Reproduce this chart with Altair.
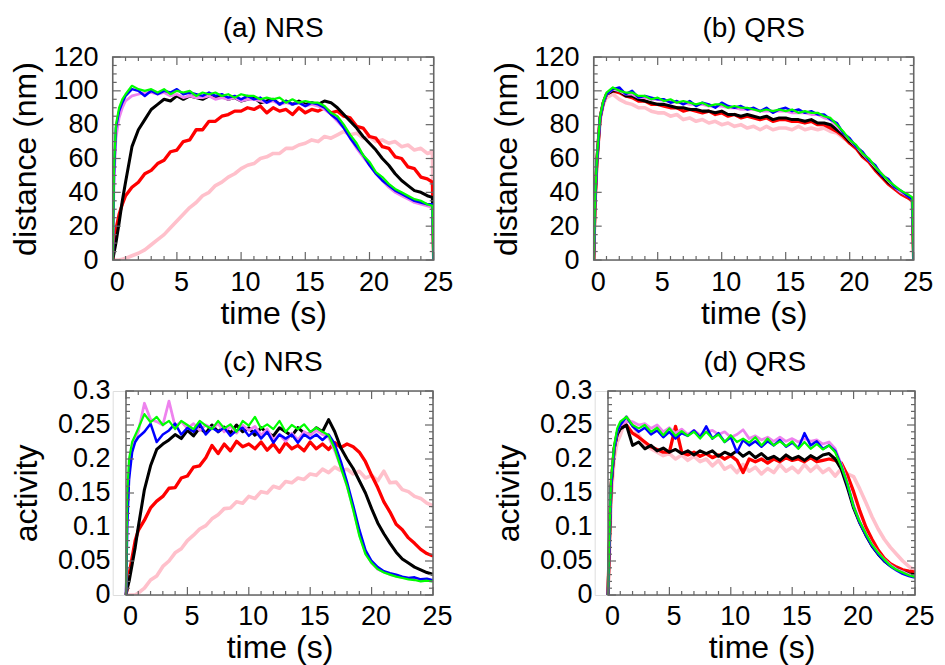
import altair as alt
import pandas as pd

# ---------------- data ----------------
T = [0, 0.1, 0.25, 0.5, 0.75, 1.0, 1.5, 2.0, 2.5, 3.0,
     3.5, 4.0, 4.5, 5.0, 5.5, 6.0, 6.5, 7.0, 7.5, 8.0,
     8.5, 9.0, 9.5, 10.0, 10.5, 11.0, 11.5, 12.0, 12.5, 13.0,
     13.5, 14.0, 14.5, 15.0, 15.5, 16.0, 16.5, 17.0, 17.5, 18.0,
     18.5, 19.0, 19.5, 20.0, 20.5, 21.0, 21.5, 22.0, 22.5, 23.0,
     23.5, 24.0, 24.5, 24.9, 25.0]

SERIES = ["pink", "red", "black", "violet", "blue", "green"]
COLORS = ["#FFC0CB", "#FF0000", "#000000", "#EE82EE", "#0000FF", "#00FF00"]
WIDTHS = [3.6, 2.2, 2.0, 2.2, 2.2, 2.2]

# (a) NRS distance (nm)
pink_a = [0, 0, 0, 0, 0.5, 1, 2.5, 4, 6, 9, 12, 15, 19, 23, 27, 31, 34, 38, 40, 44,
          46, 49, 51, 54, 56, 57, 60, 61, 63, 63, 66, 66, 68, 69, 71, 70, 73, 72, 74, 76,
          74, 75, 72, 73, 70, 71, 69, 70, 67, 68, 65, 66, 63, 64, 0]
red_a = [0, 8, 18, 27, 33, 38, 43, 46, 51, 53, 57, 59, 64, 65, 70, 71, 77, 77, 82, 82,
         85, 86, 88, 88, 90, 89, 91, 87, 90, 88, 89, 86, 90, 87, 89, 88, 90, 87, 88, 85,
         84, 79, 78, 73, 72, 67, 66, 61, 60, 55, 54, 49, 48, 46, 0]
black_a = [0, 4, 10, 22, 35, 46, 67, 77, 83, 89, 92, 95, 94, 97, 95, 97, 96, 95, 97, 96,
           97, 95, 96, 94, 95, 96, 93, 94, 95, 92, 94, 92, 94, 92, 93, 92, 94, 93, 90, 86,
           82, 78, 73, 69, 65, 60, 56, 51, 47, 44, 41, 40, 38, 37, 0]
violet_a = [0, 45, 72, 84, 90, 94, 97, 98, 99, 99, 98, 99, 97, 98, 96, 97, 96, 96, 97, 95,
            96, 95, 96, 94, 95, 95, 94, 93, 94, 92, 93, 92, 93, 91, 92, 91, 89, 86, 82, 78,
            72, 66, 61, 56, 51, 47, 43, 40, 38, 36, 34, 33, 32, 31, 0]
blue_a = [0, 50, 78, 88, 93, 97, 101, 100, 97, 100, 98, 100, 99, 101, 98, 99, 98, 97, 99, 97,
          98, 96, 97, 95, 97, 95, 96, 93, 95, 92, 94, 92, 93, 91, 93, 92, 90, 86, 83, 78,
          72, 67, 62, 56, 51, 47, 44, 41, 39, 37, 35, 34, 33, 33, 0]
green_a = [0, 55, 80, 90, 95, 98, 103, 101, 100, 101, 99, 101, 98, 100, 99, 100, 97, 99, 98, 99,
           97, 98, 96, 98, 97, 97, 95, 96, 95, 96, 93, 95, 93, 94, 93, 93, 91, 87, 85, 80,
           74, 69, 62, 58, 52, 49, 45, 42, 40, 38, 36, 35, 33, 32, 0]

# (b) QRS distance (nm)
pink_b = [0, 33, 57, 83, 92, 96, 98, 95, 93, 92, 90, 90, 88, 87, 87, 85, 86, 83, 84, 82,
          83, 81, 82, 80, 81, 79, 80, 78, 79, 77, 79, 77, 78, 78, 77, 79, 77, 78, 77, 78,
          76, 75, 72, 70, 66, 62, 58, 54, 50, 46, 43, 40, 38, 36, 0]
red_b = [0, 33, 58, 84, 93, 98, 100, 99, 97, 96, 94, 94, 92, 92, 91, 90, 90, 88, 89, 88,
         87, 88, 86, 87, 85, 86, 84, 85, 84, 83, 84, 82, 83, 83, 82, 82, 81, 82, 80, 80,
         78, 76, 73, 69, 66, 61, 58, 53, 49, 45, 42, 39, 37, 35, 0]
black_b = [0, 34, 59, 84, 93, 98, 100, 100, 97, 97, 95, 94, 93, 92, 92, 91, 90, 90, 89, 89,
           88, 88, 87, 88, 86, 86, 85, 86, 85, 84, 85, 83, 84, 84, 83, 83, 82, 83, 81, 81,
           80, 77, 74, 70, 67, 62, 59, 54, 50, 46, 43, 40, 38, 36, 0]
violet_b = [0, 34, 59, 84, 93, 98, 101, 100, 98, 98, 96, 96, 95, 95, 94, 94, 93, 93, 92, 92,
            92, 91, 91, 91, 90, 90, 89, 89, 89, 88, 88, 88, 88, 88, 87, 87, 87, 86, 86, 84,
            83, 79, 75, 71, 67, 63, 59, 55, 51, 47, 43, 40, 38, 36, 0]
blue_b = [0, 33, 58, 84, 93, 98, 101, 102, 98, 100, 96, 97, 96, 95, 95, 93, 94, 92, 94, 91,
          93, 92, 90, 93, 91, 90, 91, 89, 90, 88, 90, 87, 89, 90, 88, 89, 87, 88, 86, 86,
          83, 81, 75, 72, 67, 64, 59, 56, 50, 48, 43, 41, 38, 36, 0]
green_b = [0, 35, 60, 85, 94, 99, 102, 100, 99, 99, 97, 97, 95, 96, 94, 95, 93, 94, 93, 92,
           93, 91, 92, 92, 90, 91, 90, 90, 89, 88, 89, 88, 89, 88, 89, 87, 88, 87, 87, 85,
           84, 80, 76, 71, 68, 63, 60, 55, 51, 47, 44, 41, 39, 37, 0]

# (c) NRS activity
pink_c = [0, 0, 0, 0, 0, 0.003, 0.01, 0.022, 0.028, 0.042, 0.05, 0.062, 0.068, 0.08, 0.088, 0.097, 0.102, 0.112, 0.118, 0.127,
          0.128, 0.137, 0.135, 0.145, 0.142, 0.152, 0.15, 0.16, 0.157, 0.167, 0.165, 0.172, 0.17, 0.178, 0.176, 0.185, 0.18, 0.188, 0.183, 0.185,
          0.178, 0.182, 0.172, 0.176, 0.168, 0.182, 0.165, 0.166, 0.155, 0.152, 0.145, 0.142, 0.135, 0.132, 0.13]
red_c = [0, 0.01, 0.03, 0.055, 0.08, 0.095, 0.11, 0.128, 0.138, 0.145, 0.157, 0.158, 0.172, 0.175, 0.188, 0.19, 0.202, 0.22, 0.208, 0.222,
         0.212, 0.226, 0.218, 0.222, 0.215, 0.225, 0.213, 0.222, 0.21, 0.224, 0.215, 0.22, 0.212, 0.225, 0.215, 0.222, 0.214, 0.224, 0.217, 0.222,
         0.218, 0.21, 0.196, 0.176, 0.158, 0.137, 0.122, 0.104, 0.096, 0.084, 0.076, 0.067, 0.061, 0.058, 0.058]
black_c = [0, 0.01, 0.02, 0.045, 0.07, 0.1, 0.155, 0.19, 0.214, 0.222, 0.228, 0.236, 0.23, 0.242, 0.234, 0.246, 0.238, 0.25, 0.24, 0.247,
           0.238, 0.25, 0.24, 0.246, 0.235, 0.246, 0.238, 0.234, 0.246, 0.24, 0.234, 0.246, 0.238, 0.236, 0.246, 0.24, 0.258, 0.24, 0.216, 0.2,
           0.186, 0.168, 0.15, 0.127, 0.106, 0.09, 0.076, 0.063, 0.053, 0.047, 0.041, 0.037, 0.033, 0.031, 0.03]
violet_c = [0, 0.12, 0.18, 0.215, 0.23, 0.24, 0.282, 0.258, 0.255, 0.25, 0.285, 0.248, 0.255, 0.245, 0.252, 0.242, 0.25, 0.245, 0.252, 0.24,
            0.248, 0.238, 0.25, 0.242, 0.248, 0.235, 0.244, 0.228, 0.236, 0.226, 0.238, 0.228, 0.24, 0.235, 0.242, 0.236, 0.232, 0.212, 0.188, 0.16,
            0.128, 0.09, 0.062, 0.047, 0.038, 0.034, 0.03, 0.028, 0.026, 0.025, 0.024, 0.022, 0.023, 0.021, 0.021]
blue_c = [0, 0.1, 0.17, 0.21, 0.225, 0.232, 0.24, 0.252, 0.225, 0.236, 0.242, 0.252, 0.236, 0.246, 0.24, 0.252, 0.236, 0.246, 0.24, 0.246,
          0.234, 0.242, 0.246, 0.234, 0.242, 0.23, 0.24, 0.224, 0.236, 0.23, 0.236, 0.224, 0.236, 0.23, 0.236, 0.228, 0.236, 0.222, 0.196, 0.166,
          0.132, 0.096, 0.066, 0.05, 0.041, 0.035, 0.032, 0.03, 0.027, 0.025, 0.026, 0.023, 0.024, 0.022, 0.022]
green_c = [0, 0.15, 0.2, 0.225, 0.235, 0.245, 0.266, 0.254, 0.262, 0.25, 0.256, 0.244, 0.256, 0.25, 0.244, 0.256, 0.249, 0.244, 0.256, 0.245,
           0.251, 0.24, 0.256, 0.249, 0.262, 0.245, 0.251, 0.244, 0.256, 0.24, 0.25, 0.244, 0.251, 0.24, 0.246, 0.24, 0.235, 0.215, 0.187, 0.16,
           0.125, 0.087, 0.06, 0.047, 0.038, 0.033, 0.03, 0.027, 0.025, 0.023, 0.022, 0.02, 0.021, 0.02, 0.02]

# (d) QRS activity
pink_d = [0, 0.05, 0.14, 0.2, 0.225, 0.235, 0.262, 0.25, 0.235, 0.222, 0.215, 0.21, 0.205, 0.208, 0.2, 0.206, 0.198, 0.204, 0.196, 0.2,
          0.19, 0.198, 0.185, 0.19, 0.18, 0.192, 0.182, 0.188, 0.178, 0.186, 0.18, 0.192, 0.182, 0.188, 0.18, 0.192, 0.182, 0.19, 0.18, 0.186,
          0.175, 0.186, 0.178, 0.174, 0.156, 0.136, 0.115, 0.097, 0.082, 0.07, 0.06, 0.05, 0.042, 0.037, 0.036]
red_d = [0, 0.07, 0.16, 0.215, 0.238, 0.245, 0.25, 0.238, 0.232, 0.225, 0.218, 0.214, 0.21, 0.21, 0.248, 0.21, 0.206, 0.21, 0.204, 0.208,
         0.202, 0.206, 0.2, 0.205, 0.198, 0.18, 0.2, 0.196, 0.2, 0.194, 0.2, 0.196, 0.202, 0.198, 0.2, 0.196, 0.202, 0.196, 0.198, 0.2,
         0.198, 0.194, 0.176, 0.152, 0.124, 0.1, 0.082, 0.066, 0.054, 0.046, 0.041, 0.037, 0.035, 0.034, 0.034]
black_d = [0, 0.07, 0.16, 0.215, 0.236, 0.244, 0.25, 0.22, 0.225, 0.215, 0.22, 0.212, 0.216, 0.21, 0.214, 0.208, 0.212, 0.206, 0.212, 0.208,
           0.212, 0.204, 0.21, 0.206, 0.212, 0.204, 0.21, 0.202, 0.208, 0.2, 0.204, 0.198, 0.206, 0.2, 0.204, 0.198, 0.205, 0.2, 0.206, 0.208,
           0.2, 0.185, 0.158, 0.128, 0.106, 0.088, 0.072, 0.06, 0.05, 0.043, 0.038, 0.034, 0.031, 0.03, 0.03]
violet_d = [0, 0.075, 0.165, 0.215, 0.24, 0.25, 0.255, 0.255, 0.25, 0.252, 0.245, 0.25, 0.24, 0.246, 0.238, 0.244, 0.236, 0.242, 0.235, 0.24,
            0.242, 0.236, 0.24, 0.232, 0.236, 0.243, 0.23, 0.234, 0.228, 0.232, 0.226, 0.232, 0.226, 0.23, 0.225, 0.23, 0.226, 0.228, 0.222, 0.225,
            0.215, 0.192, 0.165, 0.132, 0.108, 0.09, 0.074, 0.062, 0.052, 0.044, 0.038, 0.034, 0.03, 0.028, 0.028]
blue_d = [0, 0.07, 0.16, 0.215, 0.24, 0.25, 0.262, 0.248, 0.24, 0.246, 0.236, 0.242, 0.232, 0.24, 0.23, 0.238, 0.234, 0.242, 0.232, 0.248,
          0.23, 0.238, 0.225, 0.232, 0.21, 0.228, 0.22, 0.226, 0.218, 0.226, 0.22, 0.228, 0.218, 0.224, 0.216, 0.238, 0.22, 0.226, 0.215, 0.22,
          0.212, 0.19, 0.162, 0.13, 0.106, 0.088, 0.072, 0.06, 0.05, 0.042, 0.036, 0.031, 0.028, 0.026, 0.026]
green_d = [0, 0.08, 0.17, 0.22, 0.245, 0.255, 0.262, 0.25, 0.245, 0.25, 0.24, 0.246, 0.235, 0.245, 0.234, 0.241, 0.234, 0.24, 0.23, 0.24,
           0.23, 0.236, 0.225, 0.235, 0.225, 0.23, 0.224, 0.232, 0.22, 0.23, 0.22, 0.226, 0.219, 0.226, 0.215, 0.225, 0.215, 0.222, 0.214, 0.22,
           0.21, 0.189, 0.164, 0.13, 0.108, 0.09, 0.074, 0.062, 0.052, 0.043, 0.037, 0.033, 0.029, 0.027, 0.027]

X_MAJOR = [0, 5, 10, 15, 20, 25]
X_MINOR = [1, 2, 3, 4, 6, 7, 8, 9, 11, 12, 13, 14, 16, 17, 18, 19, 21, 22, 23, 24]
DIST_MAJOR = [0, 20, 40, 60, 80, 100, 120]
DIST_MINOR = [5, 10, 15, 25, 30, 35, 45, 50, 55, 65, 70, 75, 85, 90, 95, 105, 110, 115]
ACT_MAJOR = [0, 0.05, 0.1, 0.15, 0.2, 0.25, 0.3]
ACT_MINOR = [0.01, 0.02, 0.03, 0.04, 0.06, 0.07, 0.08, 0.09, 0.11, 0.12, 0.13, 0.14,
             0.16, 0.17, 0.18, 0.19, 0.21, 0.22, 0.23, 0.24, 0.26, 0.27, 0.28, 0.29]

FONT = "Liberation Sans"
FRAME = "#666666"


def build(series_values):
    rows = []
    for k, (name, vals) in enumerate(zip(SERIES, series_values)):
        for t, v in zip(T, vals):
            rows.append({"t": t, "v": v, "s": name, "k": k})
    return pd.DataFrame(rows)


def panel(title, series_values, ymax, y_major, y_minor, ytitle, W, H, off,
          lab_pad, title_pad, extent):
    full_w = off + W
    xs = alt.Scale(domain=[0, 25], range=[off, full_w], nice=False, zero=False)
    ys = alt.Scale(domain=[0, ymax], nice=False, zero=False)
    xaxis = alt.Axis(values=X_MAJOR, title="time (s)", domain=False, ticks=False, grid=False,
                     labelFont=FONT, labelFontSize=27, labelColor="black", labelPadding=9,
                     labelOffset=4, labelFlush=False, labelOverlap=False,
                     titleFont=FONT, titleFontSize=32, titleFontWeight="normal",
                     titleColor="black", titlePadding=3)
    yaxis = alt.Axis(values=y_major, title=ytitle, domain=False, ticks=False, grid=False,
                     labelExpr="format(datum.value, '~g')",
                     labelFont=FONT, labelFontSize=27, labelColor="black",
                     labelPadding=lab_pad, labelOverlap=False, labelFlush=False,
                     minExtent=extent, maxExtent=extent,
                     titleFont=FONT, titleFontSize=32, titleFontWeight="normal",
                     titleColor="black", titlePadding=title_pad)

    def X(field="t"):
        return alt.X(f"{field}:Q", scale=xs, axis=xaxis)

    def Y(field="v"):
        return alt.Y(f"{field}:Q", scale=ys, axis=yaxis)

    df = build(series_values)
    lines = alt.Chart(df).mark_line(clip=True, strokeJoin="round").encode(
        x=X(), y=Y(),
        color=alt.Color("s:N", scale=alt.Scale(domain=SERIES, range=COLORS), legend=None),
        strokeWidth=alt.StrokeWidth("s:N", scale=alt.Scale(domain=SERIES, range=WIDTHS), legend=None),
        order=alt.Order("t:Q"),
    )

    # plot frame drawn through the scales (from 0..25 s and 0..ymax)
    frame_df = pd.DataFrame({"t": [0], "t2": [25], "v": [0], "v2": [ymax]})
    frame = alt.Chart(frame_df).mark_rect(fill="transparent", stroke=FRAME, strokeWidth=1.5).encode(
        x=X(), x2="t2:Q", y=Y(), y2="v2:Q")

    def xticks(vals, length):
        d = pd.DataFrame({"t": vals})
        base = alt.Chart(d).mark_rule(color=FRAME, strokeWidth=1.2)
        return [
            base.encode(x=X(), y=alt.value(H), y2=alt.value(H - length)),
            base.encode(x=X(), y=alt.value(0), y2=alt.value(length)),
        ]

    def yticks(vals, length):
        d = pd.DataFrame({"v": vals})
        base = alt.Chart(d).mark_rule(color=FRAME, strokeWidth=1.2)
        return [
            base.encode(y=Y(), x=alt.value(off), x2=alt.value(off + length)),
            base.encode(y=Y(), x=alt.value(full_w), x2=alt.value(full_w - length)),
        ]

    layers = ([lines, frame] + xticks(X_MAJOR, 8) + xticks(X_MINOR, 4)
              + yticks(y_major, 8) + yticks(y_minor, 4))
    return alt.layer(*layers).properties(
        width=full_w, height=H,
        title=alt.TitleParams(text=title, font=FONT, fontSize=28, fontWeight="normal",
                              color="black", anchor="middle", offset=0),
    )


pa = panel("(a) NRS", [pink_a, red_a, black_a, violet_a, blue_a, green_a], 120,
           DIST_MAJOR, DIST_MINOR, "distance (nm)", 321, 203, 0, 14.7, 10, 60)
pb = panel("(b) QRS", [pink_b, red_b, black_b, violet_b, blue_b, green_b], 120,
           DIST_MAJOR, DIST_MINOR, "distance (nm)", 320, 203, 0, 14.7, 10, 60)
pc = panel("(c) NRS", [pink_c, red_c, black_c, violet_c, blue_c, green_c], 0.3,
           ACT_MAJOR, ACT_MINOR, "activity", 307, 204, 13.3, 2.7, 14, 55.5)
pd_ = panel("(d) QRS", [pink_d, red_d, black_d, violet_d, blue_d, green_d], 0.3,
            ACT_MAJOR, ACT_MINOR, "activity", 307, 204, 13.3, 2.7, 14, 55.5)

top = alt.hconcat(pa, pb, spacing=36)
bottom = alt.hconcat(pc, pd_, spacing=39)
chart = alt.vconcat(top, bottom, spacing=18).properties(
    padding={"left": 8.7, "top": 14, "right": 0, "bottom": 0}
).configure_view(stroke=None).configure(background="white")

chart.save("out.html", embed_options={"renderer": "svg", "actions": False})
